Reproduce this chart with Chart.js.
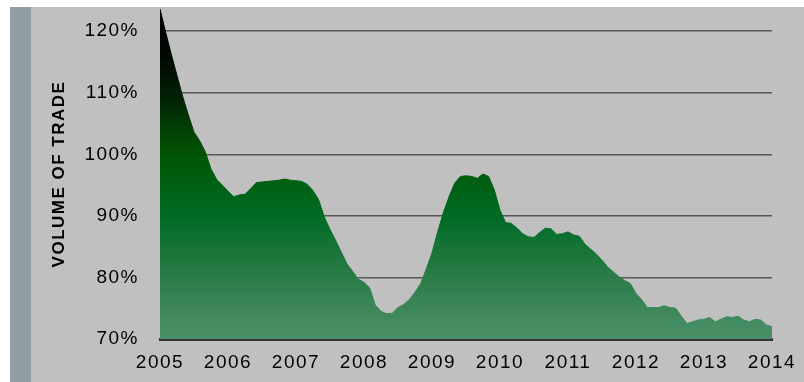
<!DOCTYPE html>
<html>
<head>
<meta charset="utf-8">
<script src="https://cdn.jsdelivr.net/npm/chart.js@4/dist/chart.umd.min.js"></script>
<style>
html,body{margin:0;padding:0;background:#fff;}
#wrap{width:804px;height:382px;position:relative;}
</style>
</head>
<body>
<div id="wrap"><canvas id="c" width="804" height="382"></canvas></div>
<script>
// Monthly volume of trade, Jan 2005 .. Jan 2014 (percent)
const tradeVolume = [
  123.6,119.8,116.2,112.8,109.4,106.4,103.6,102.2,100.4,97.6,95.9,95.0,
  94.0,93.1,93.4,93.5,94.4,95.4,95.5,95.6,95.7,95.8,96.0,95.8,
  95.7,95.6,95.1,94.1,92.6,89.8,87.8,86.0,84.1,82.2,81.0,79.7,
  79.2,78.3,75.5,74.5,74.1,74.2,75.1,75.6,76.4,77.6,79.0,81.4,
  84.0,87.4,90.5,93.1,95.3,96.4,96.5,96.4,96.1,96.8,96.4,94.2,
  90.9,88.9,88.8,88.0,87.1,86.6,86.5,87.3,88.0,87.9,87.0,87.1,
  87.4,86.9,86.7,85.4,84.6,83.8,82.8,81.7,80.9,80.1,79.5,79.0,
  77.4,76.4,75.1,75.1,75.1,75.4,75.1,75.0,73.7,72.5,72.8,73.1,
  73.2,73.5,72.8,73.2,73.6,73.5,73.7,73.1,72.8,73.2,73.1,72.3,
  72.0
];
const yearLabels = ['2005','2006','2007','2008','2009','2010','2011','2012','2013','2014'];
const yTicks = [70, 80, 90, 100, 110, 120];
const axisTitle = 'VOLUME OF TRADE';

const points = tradeVolume.map((v, i) => ({x: i, y: v}));

function fillGradient(ctx) {
  const chart = ctx.chart;
  const a = chart.chartArea;
  if (!a) return '#1a6a30';
  const g = chart.ctx.createLinearGradient(0, a.top, 0, a.bottom);
  g.addColorStop(0.00, '#000000');
  g.addColorStop(0.14, '#000800');
  g.addColorStop(0.26, '#021f05');
  g.addColorStop(0.36, '#013e04');
  g.addColorStop(0.45, '#005705');
  g.addColorStop(0.63, '#006b25');
  g.addColorStop(0.81, '#2b7c48');
  g.addColorStop(1.00, '#4c9169');
  return g;
}

const bgPlugin = {
  id: 'bg',
  beforeInit(chart) { chart.ctx.letterSpacing = '1.5px'; },
  beforeUpdate(chart) { chart.ctx.letterSpacing = '1.5px'; },
  beforeDraw(chart) {
    const c = chart.ctx;
    c.save();
    c.fillStyle = '#ffffff';
    c.fillRect(0, 0, chart.width, chart.height);
    c.fillStyle = '#919ea4';
    c.fillRect(10, 7, 21, chart.height - 7);
    c.fillStyle = '#c0c0c0';
    c.fillRect(31, 7, chart.width - 31, chart.height - 7);
    c.restore();
    c.letterSpacing = '1.5px';
  }
};

new Chart(document.getElementById('c'), {
  type: 'line',
  data: {
    datasets: [{
      data: points,
      fill: 'start',
      backgroundColor: fillGradient,
      borderColor: fillGradient,
      borderWidth: 1,
      pointRadius: 0,
      tension: 0
    }]
  },
  options: {
    responsive: false,
    animation: false,
    devicePixelRatio: 1,
    layout: { padding: { left: 0, right: 32, top: 9, bottom: 0 } },
    plugins: { legend: { display: false }, tooltip: { enabled: false } },
    scales: {
      x: {
        type: 'linear',
        min: 0,
        max: tradeVolume.length - 1,
        z: 1,
        grid: { display: false, drawTicks: false },
        border: { display: true, color: '#333333', width: 3 },
        ticks: {
          stepSize: 12,
          autoSkip: false,
          maxRotation: 0,
          minRotation: 0,
          padding: 12,
          color: '#000000',
          font: { family: '"Liberation Sans", Arial, sans-serif', size: 19 },
          callback: (v) => yearLabels[Math.round(v / 12)] || ''
        },
        afterFit: (s) => { s.height = 43; s.paddingLeft = 0; s.paddingRight = 0; }
      },
      y: {
        min: 70,
        max: 123.6,
        z: 1,
        grid: { color: 'rgba(0,0,0,0.55)', lineWidth: 1.5, drawTicks: false },
        border: { display: false },
        afterBuildTicks: (s) => { s.ticks = yTicks.map(v => ({ value: v })); },
        ticks: {
          padding: 21,
          color: '#000000',
          font: { family: '"Liberation Sans", Arial, sans-serif', size: 19 },
          callback: (v) => v + '%'
        },
        title: {
          display: true,
          text: axisTitle,
          color: '#000000',
          padding: { top: 49, bottom: 0 },
          font: { family: '"Liberation Sans", Arial, sans-serif', size: 17, weight: 'bold' }
        },
        afterFit: (s) => { s.width = 160; s.paddingTop = 0; s.paddingBottom = 0; }
      }
    }
  },
  plugins: [bgPlugin]
});
</script>
</body>
</html>
